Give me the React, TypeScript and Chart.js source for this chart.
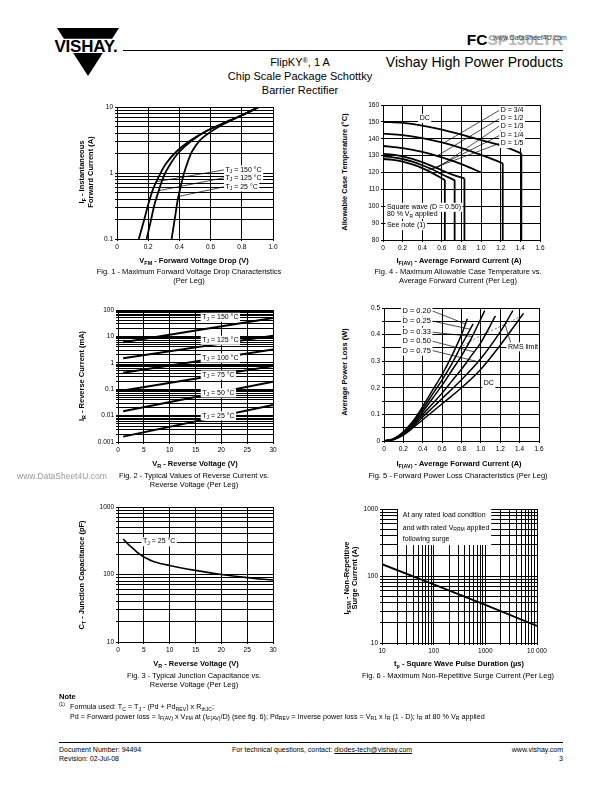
import React, { useEffect, useRef } from "react";
import { Chart, registerables } from "chart.js";

Chart.register(...registerables);

type Pt = [number, number];
const FONT = "'Liberation Sans', Arial, Helvetica, sans-serif";

// ---------------- Fig. 1 : forward voltage drop ----------------
const fig1XTicks = ["0", "0.2", "0.4", "0.6", "0.8", "1.0"];
const fig1YTicks = ["0.1", "1", "10"];
const fig1Tj150: Pt[] = [[0.14, 0.1], [0.17, 0.18], [0.2, 0.33], [0.23, 0.56], [0.27, 0.9], [0.31, 1.35], [0.38, 2.1], [0.47, 3.1], [0.57, 4.3], [0.67, 5.5], [0.8, 7.5], [0.91, 10]];
const fig1Tj125: Pt[] = [[0.19, 0.1], [0.215, 0.18], [0.24, 0.33], [0.27, 0.56], [0.3, 0.9], [0.34, 1.35], [0.4, 2.1], [0.48, 3.1], [0.57, 4.3], [0.67, 5.5], [0.8, 7.5], [0.91, 10]];
const fig1Tj25: Pt[] = [[0.35, 0.1], [0.37, 0.2], [0.39, 0.4], [0.41, 0.65], [0.43, 1.0], [0.455, 1.5], [0.48, 2.1], [0.53, 3.1], [0.6, 4.2], [0.67, 5.3], [0.8, 7.5], [0.91, 10]];

// ---------------- Fig. 2 : reverse current ----------------
const fig2XTicks = ["0", "5", "10", "15", "20", "25", "30"];
const fig2YTicks = ["0.001", "0.01", "0.1", "1", "10", "100"];
const fig2Tj150: Pt[] = [[1, 6], [30, 50]];
const fig2Tj125: Pt[] = [[1, 1.5], [30, 10.5]];
const fig2Tj100: Pt[] = [[1, 0.42], [30, 3.2]];
const fig2Tj75: Pt[] = [[1, 0.09], [30, 0.75]];
const fig2Tj50: Pt[] = [[1, 0.0145], [30, 0.19]];
const fig2Tj25: Pt[] = [[1, 0.0016], [30, 0.025]];

// ---------------- Fig. 3 : junction capacitance ----------------
const fig3XTicks = ["0", "5", "10", "15", "20", "25", "30"];
const fig3YTicks = ["10", "100", "1000"];
const fig3Ct: Pt[] = [[1, 335], [2, 280], [3, 240], [4, 205], [5, 182], [7, 155], [10, 136], [15, 115], [20, 100], [25, 90], [30, 83]];

// ---------------- Fig. 4 : allowable case temperature ----------------
const fig4XTicks = ["0", "0.2", "0.4", "0.6", "0.8", "1.0", "1.2", "1.4", "1.6"];
const fig4YTicks = ["80", "90", "100", "110", "120", "130", "140", "150", "160"];
const fig4Dc: Pt[] = [[0, 150], [0.2, 149.4], [0.4, 147.8], [0.6, 145.4], [0.8, 142.4], [1.0, 139.2], [1.2, 136.0], [1.3, 134.0], [1.41, 131.3]];
const fig4DcDrop: Pt[] = [[1.41, 131.3], [1.41, 80]];
const fig4D34: Pt[] = [[0, 143], [0.2, 142.2], [0.4, 140.4], [0.6, 137.8], [0.8, 134.5], [1.0, 130.5], [1.1, 128.2], [1.22, 125.5]];
const fig4D34Drop: Pt[] = [[1.22, 125.5], [1.22, 80]];
const fig4D12: Pt[] = [[0, 135.7], [0.2, 134.4], [0.4, 132.2], [0.6, 129], [0.8, 125], [1.0, 120]];
const fig4D13: Pt[] = [[0, 131], [0.1, 130.6], [0.2, 129.6], [0.3, 128.1], [0.4, 126.1], [0.5, 123.8], [0.6, 121.3], [0.7, 118.9], [0.83, 116.5]];
const fig4D13Drop: Pt[] = [[0.83, 116.5], [0.83, 80]];
const fig4D14: Pt[] = [[0, 129.5], [0.1, 129], [0.2, 128], [0.3, 126.4], [0.4, 124.3], [0.5, 121.9], [0.6, 119], [0.73, 115.5]];
const fig4D14Drop: Pt[] = [[0.73, 115.5], [0.73, 80]];
const fig4D15: Pt[] = [[0, 128], [0.1, 127.5], [0.2, 126.5], [0.3, 124.8], [0.4, 122.6], [0.5, 119.8], [0.63, 115.5]];
const fig4D15Drop: Pt[] = [[0.63, 115.5], [0.63, 80]];

// ---------------- Fig. 5 : forward power loss ----------------
const fig5XTicks = ["0", "0.2", "0.4", "0.6", "0.8", "1.0", "1.2", "1.4", "1.6"];
const fig5YTicks = ["0", "0.1", "0.2", "0.3", "0.4", "0.5"];
const fig5D020: Pt[] = [[0, 0], [0.1, 0.009], [0.2, 0.035], [0.3, 0.075], [0.4, 0.13], [0.5, 0.19], [0.6, 0.25], [0.7, 0.32], [0.8, 0.4], [0.86, 0.46]];
const fig5D025: Pt[] = [[0, 0], [0.1, 0.008], [0.2, 0.032], [0.3, 0.07], [0.4, 0.12], [0.5, 0.175], [0.6, 0.23], [0.7, 0.29], [0.8, 0.36], [0.92, 0.44]];
const fig5D033: Pt[] = [[0, 0], [0.1, 0.008], [0.2, 0.03], [0.3, 0.065], [0.4, 0.11], [0.5, 0.16], [0.6, 0.21], [0.7, 0.265], [0.8, 0.32], [0.9, 0.385], [1.04, 0.49]];
const fig5D050: Pt[] = [[0, 0], [0.1, 0.007], [0.2, 0.028], [0.3, 0.06], [0.4, 0.1], [0.5, 0.14], [0.6, 0.18], [0.7, 0.225], [0.8, 0.27], [0.9, 0.32], [1.0, 0.37], [1.15, 0.47]];
const fig5D075: Pt[] = [[0, 0], [0.1, 0.006], [0.2, 0.025], [0.3, 0.055], [0.4, 0.09], [0.5, 0.125], [0.6, 0.16], [0.8, 0.23], [1.0, 0.31], [1.2, 0.41], [1.33, 0.49]];
const fig5Dc: Pt[] = [[0, 0], [0.1, 0.005], [0.2, 0.022], [0.3, 0.05], [0.4, 0.08], [0.6, 0.14], [0.8, 0.2], [1.0, 0.27], [1.2, 0.36], [1.44, 0.48]];
const fig5Rms: Pt[] = [[0.78, 0.35], [1.0, 0.397], [1.17, 0.425], [1.41, 0.468]];

// ---------------- Fig. 6 : surge current ----------------
const fig6XTicks = ["10", "100", "1000", "10 000"];
const fig6YTicks = ["10", "100", "1000"];
const fig6Ifsm: Pt[] = [[10, 150], [100, 75], [1000, 37], [10000, 18]];

// ---------------- helpers ----------------
type Seg = { t: string; sub?: boolean; sup?: boolean };
function parseRich(s: string): Seg[] {
  const out: Seg[] = [];
  const re = /([_^])\{([^}]*)\}/g;
  let last = 0;
  let m: RegExpExecArray | null;
  while ((m = re.exec(s))) {
    if (m.index > last) out.push({ t: s.slice(last, m.index) });
    out.push({ t: m[2], sub: m[1] === "_", sup: m[1] === "^" });
    last = re.lastIndex;
  }
  if (last < s.length) out.push({ t: s.slice(last) });
  return out;
}

function Rich({ s }: { s: string }) {
  return (
    <>
      {parseRich(s).map((p, i) =>
        p.sub ? (
          <span key={i} style={{ fontSize: "0.72em", position: "relative", top: "0.3em" }}>{p.t}</span>
        ) : p.sup ? (
          <span key={i} style={{ fontSize: "0.65em", position: "relative", top: "-0.45em" }}>{p.t}</span>
        ) : (
          <span key={i}>{p.t}</span>
        )
      )}
    </>
  );
}

type Ann =
  | { kind: "text"; x: number; y: number; s: string; align?: "left" | "center" | "right"; bg?: boolean; size?: number }
  | { kind: "line"; pts: Pt[]; width?: number }
  | { kind: "box"; x1: number; y1: number; x2: number; y2: number };

function drawRich(ctx: CanvasRenderingContext2D, s: string, x: number, y: number, size: number, align: string, bg: boolean) {
  const parts = parseRich(s);
  const fN = `${size}px ${FONT}`;
  const fS = `${size * 0.72}px ${FONT}`;
  let w = 0;
  const ws = parts.map((p) => {
    ctx.font = p.sub || p.sup ? fS : fN;
    const m = ctx.measureText(p.t).width;
    w += m;
    return m;
  });
  let x0 = align === "center" ? x - w / 2 : align === "right" ? x - w : x;
  if (bg) {
    ctx.fillStyle = "#fff";
    ctx.fillRect(x0 - 1.5, y - size * 0.62, w + 3, size * 1.3);
  }
  ctx.fillStyle = "#000";
  ctx.textBaseline = "middle";
  ctx.textAlign = "left";
  parts.forEach((p, i) => {
    ctx.font = p.sub || p.sup ? fS : fN;
    ctx.fillText(p.t, x0, y + (p.sub ? size * 0.3 : p.sup ? -size * 0.35 : 0));
    x0 += ws[i];
  });
}

function annPlugin(anns: Ann[]) {
  return {
    id: "ann",
    afterDatasetsDraw(chart: any) {
      const ctx: CanvasRenderingContext2D = chart.ctx;
      const ca = chart.chartArea;
      const xs = chart.scales.x;
      const ys = chart.scales.y;
      const px = (v: number) => xs.getPixelForValue(v);
      const py = (v: number) => ys.getPixelForValue(v);
      ctx.save();
      ctx.beginPath();
      ctx.rect(ca.left, ca.top, ca.right - ca.left, ca.bottom - ca.top);
      ctx.clip();
      for (const a of anns) {
        if (a.kind === "box") {
          ctx.fillStyle = "#fff";
          const x1 = px(a.x1), x2 = px(a.x2), y1 = py(a.y1), y2 = py(a.y2);
          ctx.fillRect(Math.min(x1, x2), Math.min(y1, y2), Math.abs(x2 - x1), Math.abs(y2 - y1));
        } else if (a.kind === "line") {
          ctx.beginPath();
          ctx.strokeStyle = "#000";
          ctx.lineWidth = a.width ?? 0.7;
          a.pts.forEach(([x, y], i) => (i ? ctx.lineTo(px(x), py(y)) : ctx.moveTo(px(x), py(y))));
          ctx.stroke();
        } else {
          drawRich(ctx, a.s, px(a.x), py(a.y), a.size ?? 7, a.align ?? "left", !!a.bg);
        }
      }
      ctx.restore();
    },
  };
}

type AxisSpec =
  | { kind: "lin"; min: number; max: number; step: number; labels: string[]; every?: number }
  | { kind: "log"; min: number; max: number; labels: string[] };

const WY = 32, HX = 17, PT = 6, PR = 14;

function buildAxis(a: AxisSpec, isX: boolean) {
  const values: number[] = [];
  if (a.kind === "lin") {
    const n = Math.round((a.max - a.min) / a.step);
    for (let i = 0; i <= n; i++) values.push(+(a.min + i * a.step).toFixed(6));
  } else {
    const e0 = Math.round(Math.log10(a.min));
    const e1 = Math.round(Math.log10(a.max));
    for (let e = e0; e < e1; e++) for (let d = 1; d < 10; d++) values.push(+(d * Math.pow(10, e)).toPrecision(6));
    values.push(a.max);
  }
  const label = (v: number, i: number) => {
    if (a.kind === "lin") {
      const ev = a.every || 1;
      return i % ev === 0 ? a.labels[i / ev] ?? "" : "";
    }
    const e = Math.log10(v);
    const r = Math.round(e);
    return Math.abs(e - r) < 1e-6 ? a.labels[r - Math.round(Math.log10(a.min))] ?? "" : "";
  };
  return {
    type: a.kind === "lin" ? "linear" : "logarithmic",
    min: a.min,
    max: a.max,
    afterBuildTicks: (s: any) => {
      s.ticks = values.map((v) => ({ value: v }));
    },
    afterFit: (s: any) => {
      if (isX) s.height = HX;
      else s.width = WY;
    },
    ticks: { autoSkip: false, maxRotation: 0, minRotation: 0, padding: 2, color: "#000", font: { family: FONT, size: 6.5 }, callback: label },
    grid: { color: "#000", lineWidth: 1, drawTicks: true, tickLength: 2, tickColor: "#000" },
    border: { color: "#000", width: 1 },
  };
}

const ds = (data: Pt[], extra: any = {}) => ({
  data: data.map(([x, y]) => ({ x, y })),
  borderColor: "#000",
  borderWidth: 1.8,
  pointRadius: 0,
  tension: 0.35,
  fill: false,
  ...extra,
});

type PlotSpec = { L: number; T: number; R: number; B: number; x: AxisSpec; y: AxisSpec; datasets: any[]; anns: Ann[] };

function Plot({ p }: { p: PlotSpec }) {
  const ref = useRef<HTMLCanvasElement>(null);
  const W = p.R - p.L + WY + PR;
  const H = p.B - p.T + PT + HX;
  useEffect(() => {
    const chart = new Chart(ref.current as HTMLCanvasElement, {
      type: "line",
      data: { datasets: p.datasets },
      options: {
        animation: false,
        responsive: false,
        events: [],
        layout: { padding: { left: 0, top: PT, right: PR, bottom: 0 } },
        plugins: { legend: { display: false }, tooltip: { enabled: false } },
        scales: { x: buildAxis(p.x, true), y: buildAxis(p.y, false) },
      } as any,
      plugins: [annPlugin(p.anns)],
    } as any);
    return () => chart.destroy();
  }, []);
  return <canvas ref={ref} width={W} height={H} style={{ position: "absolute", left: p.L - WY, top: p.T - PT, width: W, height: H }} />;
}

function Txt({ x, y, s, size = 7, bold = false, align = "left", rot = false, color = "#000", children }: any) {
  const tx = align === "left" ? "0" : align === "center" ? "-50%" : "-100%";
  return (
    <div
      style={{
        position: "absolute",
        left: x,
        top: y,
        transform: rot ? "translate(-50%,-50%) rotate(-90deg)" : `translate(${tx},-50%)`,
        fontSize: size,
        fontWeight: bold ? 700 : 400,
        whiteSpace: "nowrap",
        lineHeight: 1.15,
        color,
      }}
    >
      {children ?? <Rich s={s} />}
    </div>
  );
}

// ---------------- chart specs ----------------
const fig1: PlotSpec = {
  L: 117, T: 107, R: 273, B: 239,
  x: { kind: "lin", min: 0, max: 1, step: 0.2, labels: fig1XTicks },
  y: { kind: "log", min: 0.1, max: 10, labels: fig1YTicks },
  datasets: [ds(fig1Tj150), ds(fig1Tj125), ds(fig1Tj25)],
  anns: [
    { kind: "line", pts: [[0.69, 1.12], [0.255, 0.74]] },
    { kind: "line", pts: [[0.69, 0.85], [0.268, 0.54]] },
    { kind: "line", pts: [[0.69, 0.62], [0.392, 0.44]] },
    { kind: "text", x: 0.695, y: 1.12, s: "T_{J} = 150 °C", bg: true },
    { kind: "text", x: 0.695, y: 0.85, s: "T_{J} = 125 °C", bg: true },
    { kind: "text", x: 0.695, y: 0.62, s: "T_{J} = 25 °C", bg: true },
  ],
};

const fig4: PlotSpec = {
  L: 383, T: 105, R: 540, B: 240,
  x: { kind: "lin", min: 0, max: 1.6, step: 0.2, labels: fig4XTicks },
  y: { kind: "lin", min: 80, max: 160, step: 10, labels: fig4YTicks },
  datasets: [
    ds(fig4Dc), ds(fig4DcDrop, { tension: 0 }),
    ds(fig4D34), ds(fig4D34Drop, { tension: 0 }),
    ds(fig4D12),
    ds(fig4D13), ds(fig4D13Drop, { tension: 0 }),
    ds(fig4D14), ds(fig4D14Drop, { tension: 0 }),
    ds(fig4D15), ds(fig4D15Drop, { tension: 0 }),
  ],
  anns: [
    { kind: "line", pts: [[1.19, 157], [0.62, 137.5]] },
    { kind: "line", pts: [[1.19, 152], [0.55, 129.8]] },
    { kind: "line", pts: [[1.19, 147.7], [0.55, 122.6]] },
    { kind: "line", pts: [[1.19, 142], [0.5, 121.9]] },
    { kind: "line", pts: [[1.19, 137.3], [0.45, 121.2]] },
    { kind: "text", x: 0.425, y: 152.2, s: "DC", align: "center", bg: true },
    { kind: "text", x: 1.2, y: 157, s: "D = 3/4", bg: true },
    { kind: "text", x: 1.2, y: 152, s: "D = 1/2", bg: true },
    { kind: "text", x: 1.2, y: 147.7, s: "D = 1/3", bg: true },
    { kind: "text", x: 1.2, y: 142, s: "D = 1/4", bg: true },
    { kind: "text", x: 1.2, y: 137.3, s: "D = 1/5", bg: true },
    { kind: "text", x: 0.04, y: 99.5, s: "Square wave (D = 0.50)", bg: true },
    { kind: "text", x: 0.04, y: 95.3, s: "80 % V_{R} applied", bg: true },
    { kind: "text", x: 0.04, y: 88.6, s: "See note (1)", bg: true },
  ],
};

const fig2: PlotSpec = {
  L: 118, T: 310, R: 273, B: 442,
  x: { kind: "lin", min: 0, max: 30, step: 5, labels: fig2XTicks },
  y: { kind: "log", min: 0.001, max: 100, labels: fig2YTicks },
  datasets: [fig2Tj150, fig2Tj125, fig2Tj100, fig2Tj75, fig2Tj50, fig2Tj25].map((d) => ds(d, { tension: 0, borderWidth: 2 })),
  anns: [
    { kind: "text", x: 16.3, y: 54, s: "T_{J} = 150 °C", bg: true },
    { kind: "text", x: 16.3, y: 7.3, s: "T_{J} = 125 °C", bg: true },
    { kind: "text", x: 16.3, y: 1.55, s: "T_{J} = 100 °C", bg: true },
    { kind: "text", x: 16.3, y: 0.35, s: "T_{J} = 75 °C", bg: true },
    { kind: "text", x: 16.3, y: 0.074, s: "T_{J} = 50 °C", bg: true },
    { kind: "text", x: 16.3, y: 0.01, s: "T_{J} = 25 °C", bg: true },
  ],
};

const fig5: PlotSpec = {
  L: 384, T: 308, R: 539, B: 441,
  x: { kind: "lin", min: 0, max: 1.6, step: 0.2, labels: fig5XTicks },
  y: { kind: "lin", min: 0, max: 0.5, step: 0.05, labels: fig5YTicks, every: 2 },
  datasets: [
    ds(fig5D020, { borderWidth: 1.5 }), ds(fig5D025, { borderWidth: 1.5 }), ds(fig5D033, { borderWidth: 1.5 }),
    ds(fig5D050, { borderWidth: 1.5 }), ds(fig5D075, { borderWidth: 1.5 }), ds(fig5Dc, { borderWidth: 1.5 }),
    ds(fig5Rms, { borderColor: "#777", borderWidth: 1, borderDash: [2, 2], tension: 0.2 }),
  ],
  anns: [
    { kind: "line", pts: [[0.5, 0.489], [0.84, 0.44]] },
    { kind: "line", pts: [[0.5, 0.451], [0.89, 0.42]] },
    { kind: "line", pts: [[0.5, 0.409], [0.91, 0.393]] },
    { kind: "line", pts: [[0.5, 0.375], [0.93, 0.335]] },
    { kind: "line", pts: [[0.5, 0.34], [0.97, 0.298]] },
    { kind: "line", pts: [[1.31, 0.367], [1.25, 0.438]] },
    { kind: "text", x: 0.19, y: 0.489, s: "D = 0.20", bg: true, size: 7.5 },
    { kind: "text", x: 0.19, y: 0.451, s: "D = 0.25", bg: true, size: 7.5 },
    { kind: "text", x: 0.19, y: 0.409, s: "D = 0.33", bg: true, size: 7.5 },
    { kind: "text", x: 0.19, y: 0.375, s: "D = 0.50", bg: true, size: 7.5 },
    { kind: "text", x: 0.19, y: 0.34, s: "D = 0.75", bg: true, size: 7.5 },
    { kind: "text", x: 1.28, y: 0.355, s: "RMS limit", bg: true },
    { kind: "text", x: 1.03, y: 0.217, s: "DC", bg: true },
  ],
};

const fig3: PlotSpec = {
  L: 118, T: 507, R: 273, B: 642,
  x: { kind: "lin", min: 0, max: 30, step: 5, labels: fig3XTicks },
  y: { kind: "log", min: 10, max: 1000, labels: fig3YTicks },
  datasets: [ds(fig3Ct, { borderWidth: 1.6 })],
  anns: [{ kind: "text", x: 4.85, y: 308, s: "T_{J} = 25 °C", bg: true }],
};

const fig6: PlotSpec = {
  L: 382, T: 509, R: 537, B: 643,
  x: { kind: "log", min: 10, max: 10000, labels: fig6XTicks },
  y: { kind: "log", min: 10, max: 1000, labels: fig6YTicks },
  datasets: [ds(fig6Ifsm, { tension: 0, borderWidth: 1.8 })],
  anns: [
    { kind: "box", x1: 20.4, y1: 290, x2: 1300, y2: 1000 },
    { kind: "text", x: 25.2, y: 813, s: "At any rated load condition" },
    { kind: "text", x: 25.2, y: 525, s: "and with rated V_{RRM} applied" },
    { kind: "text", x: 25.2, y: 355, s: "following surge" },
  ],
};

function Logo() {
  return (
    <svg style={{ position: "absolute", left: 0, top: 0 }} width={140} height={90} viewBox="0 0 140 90">
      <polygon points="57,28 119,28 112.1,38.7 63.9,38.7" fill="#000" />
      <polygon points="73.2,53 102.8,53 88,76" fill="#000" />
      <text x={86} y={51.8} textAnchor="middle" fontFamily={FONT} fontWeight={700} fontSize={17} letterSpacing={-0.2}>
        VISHAY.
      </text>
    </svg>
  );
}

export default function App() {
  return (
    <div style={{ position: "absolute", left: 0, top: 0, width: 612, height: 792, overflow: "hidden", background: "#fff", fontFamily: FONT, color: "#000" }}>
      <Logo />
      <Txt x={563} y={40} align="right" size={15.5} bold>
        <span>FC</span>
        <span style={{ color: "#b8b8b8" }}>SP130LTR</span>
      </Txt>
      <Txt x={493} y={38} s="www.DataSheet4U.com" size={7} color="#444" />
      <div style={{ position: "absolute", left: 123, top: 50, width: 440, height: 1, background: "#000" }} />
      <Txt x={300} y={62} s="FlipKY^{®}, 1 A" size={11} align="center" />
      <Txt x={300} y={76} s="Chip Scale Package Schottky" size={11} align="center" />
      <Txt x={300} y={90} s="Barrier Rectifier" size={11} align="center" />
      <Txt x={563} y={62} s="Vishay High Power Products" size={14} align="right" />

      <Plot p={fig1} />
      <Plot p={fig4} />
      <Plot p={fig2} />
      <Plot p={fig5} />
      <Plot p={fig3} />
      <Plot p={fig6} />

      {/* Fig 1 texts */}
      <Txt x={81.7} y={172} s="I_{F} - Instantaneous" size={7.5} bold rot />
      <Txt x={90.5} y={172} s="Forward Current (A)" size={7.5} bold rot />
      <Txt x={194} y={261} s="V_{FM} - Forward Voltage Drop (V)" size={7.5} bold align="center" />
      <Txt x={189} y={272} s="Fig. 1 - Maximum Forward Voltage Drop Characteristics" size={7.5} align="center" />
      <Txt x={189} y={280.5} s="(Per Leg)" size={7.5} align="center" />

      {/* Fig 4 texts */}
      <Txt x={345} y={172} s="Allowable Case Temperature (°C)" size={7.5} bold rot />
      <Txt x={459} y={261} s="I_{F(AV)} - Average Forward Current (A)" size={7.5} bold align="center" />
      <Txt x={458} y={272} s="Fig. 4 - Maximum Allowable Case Temperature vs." size={7.5} align="center" />
      <Txt x={458} y={280.5} s="Average Forward Current (Per Leg)" size={7.5} align="center" />

      {/* Fig 2 texts */}
      <Txt x={82} y={376} s="I_{R} - Reverse Current (mA)" size={7.5} bold rot />
      <Txt x={195} y={464} s="V_{R} - Reverse Voltage (V)" size={7.5} bold align="center" />
      <Txt x={194} y={476} s="Fig. 2 - Typical Values of Reverse Current vs." size={7.5} align="center" />
      <Txt x={194} y={484.5} s="Reverse Voltage (Per Leg)" size={7.5} align="center" />
      <Txt x={17} y={477} s="www.DataSheet4U.com" size={8.5} color="#999" />

      {/* Fig 5 texts */}
      <Txt x={345} y={372} s="Average Power Loss (W)" size={7.5} bold rot />
      <Txt x={459} y={464} s="I_{F(AV)} - Average Forward Current (A)" size={7.5} bold align="center" />
      <Txt x={458} y={476} s="Fig. 5 - Forward Power Loss Characteristics (Per Leg)" size={7.5} align="center" />

      {/* Fig 3 texts */}
      <Txt x={81.5} y={575} s="C_{T} - Junction Capacitance (pF)" size={7.5} bold rot />
      <Txt x={196} y={664} s="V_{R} - Reverse Voltage (V)" size={7.5} bold align="center" />
      <Txt x={194} y={676} s="Fig. 3 - Typical Junction Capacitance vs." size={7.5} align="center" />
      <Txt x={194} y={684.5} s="Reverse Voltage (Per Leg)" size={7.5} align="center" />

      {/* Fig 6 texts */}
      <Txt x={347} y={578} s="I_{FSM} - Non-Repetitive" size={7.5} bold rot />
      <Txt x={355} y={578} s="Surge Current (A)" size={7.5} bold rot />
      <Txt x={459} y={664} s="t_{p} - Square Wave Pulse Duration (µs)" size={7.5} bold align="center" />
      <Txt x={458} y={676} s="Fig. 6 - Maximum Non-Repetitive Surge Current (Per Leg)" size={7.5} align="center" />

      {/* Notes */}
      <Txt x={59} y={697} s="Note" size={7.5} bold />
      <Txt x={59} y={706} s="^{(1)}" size={7.5} />
      <Txt x={70} y={707} s="Formula used: T_{C} = T_{J} - (Pd + Pd_{REV}) x R_{thJC};" size={7.2} />
      <Txt x={70} y={716.5} s="Pd = Forward power loss = I_{F(AV)} x V_{FM} at (I_{F(AV)}/D) (see fig. 6); Pd_{REV} = Inverse power loss = V_{R1} x I_{R} (1 - D); I_{R} at 80 % V_{R} applied" size={7.2} />

      {/* Footer */}
      <div style={{ position: "absolute", left: 59, top: 742, width: 504, height: 1, background: "#000" }} />
      <Txt x={59} y={750} s="Document Number: 94494" size={7} />
      <Txt x={59} y={759} s="Revision: 02-Jul-08" size={7} />
      <Txt x={232} y={750} size={7}>
        <span>For technical questions, contact: </span>
        <span style={{ textDecoration: "underline" }}>diodes-tech@vishay.com</span>
      </Txt>
      <Txt x={563} y={750} s="www.vishay.com" size={7} align="right" />
      <Txt x={563} y={759} s="3" size={7} align="right" />
    </div>
  );
}
